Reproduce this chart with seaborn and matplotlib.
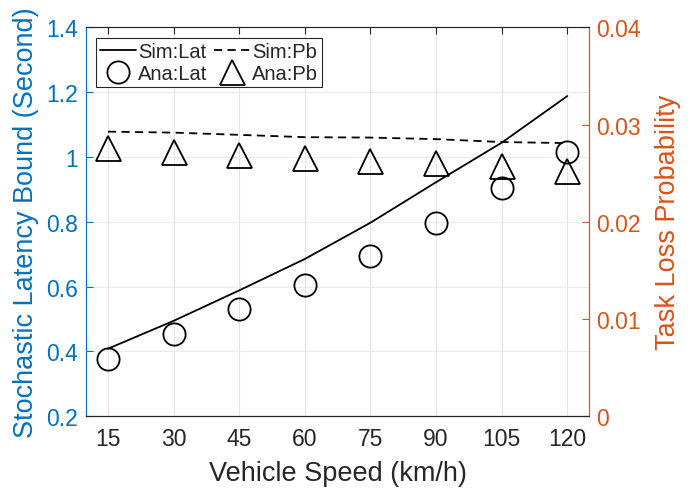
import numpy as np
import pandas as pd
import matplotlib
matplotlib.use('Agg')
import matplotlib.pyplot as plt
import seaborn as sns

# values
speeds = [15, 30, 45, 60, 75, 90, 105, 120]
sim_lat = [0.408, 0.494, 0.588, 0.685, 0.797, 0.922, 1.044, 1.188]
ana_lat = [0.375, 0.454, 0.531, 0.605, 0.694, 0.796, 0.903, 1.015]
sim_pb = [0.02927, 0.02917, 0.02894, 0.0287, 0.02866, 0.0285, 0.0282, 0.02809]
ana_pb = [0.02757, 0.02716, 0.02686, 0.0266, 0.0263, 0.0260, 0.02573, 0.02527]

blue = '#0072BD'
orange = '#D95319'
dark = '#262626'

sns.set_style('whitegrid')
plt.rcParams['font.family'] = ['Liberation Sans', 'DejaVu Sans']
plt.rcParams['xtick.direction'] = 'in'
plt.rcParams['ytick.direction'] = 'in'

df = pd.DataFrame({'speed': speeds, 'sim_lat': sim_lat, 'ana_lat': ana_lat,
                   'sim_pb': sim_pb, 'ana_pb': ana_pb})

fig = plt.figure(figsize=(6.94, 4.89), dpi=100)
ax = fig.add_axes([0.124, 0.147, 0.725, 0.795])
ax2 = ax.twinx()

sns.lineplot(data=df, x='speed', y='sim_lat', ax=ax, color='black', lw=1.3, label='Sim:Lat')
sns.lineplot(data=df, x='speed', y='ana_lat', ax=ax, color='black', linestyle='', marker='o',
             markersize=16, markerfacecolor='none', markeredgecolor='black', markeredgewidth=1.3,
             label='Ana:Lat')
sns.lineplot(data=df, x='speed', y='sim_pb', ax=ax2, color='black', lw=1.3, linestyle=(0, (4.5, 3)),
             label='Sim:Pb')
sns.lineplot(data=df, x='speed', y='ana_pb', ax=ax2, color='black', linestyle='', marker='^',
             markersize=18, markerfacecolor='none', markeredgecolor='black', markeredgewidth=1.3,
             label='Ana:Pb')

ax.set_xlim(10, 125)
ax.set_ylim(0.2, 1.4)
ax2.set_ylim(0, 0.04)
ax.set_xticks(speeds)
ax.set_yticks([0.2, 0.4, 0.6, 0.8, 1.0, 1.2, 1.4])
ax.set_yticklabels(['0.2', '0.4', '0.6', '0.8', '1', '1.2', '1.4'])
ax2.set_yticks([0, 0.01, 0.02, 0.03, 0.04])
ax2.set_yticklabels(['0', '0.01', '0.02', '0.03', '0.04'])

ax.set_xlabel('Vehicle Speed (km/h)', fontsize=19.5, color=dark, labelpad=7)
ax.set_ylabel('Stochastic Latency Bound (Second)', fontsize=19.5, color=blue, labelpad=5)
ax2.set_ylabel('Task Loss Probability', fontsize=19.5, color=orange, labelpad=10)

ax.tick_params(axis='x', labelsize=16.5, colors=dark, length=5, width=0.8, top=True, pad=8)
ax.tick_params(axis='y', labelsize=16.5, colors=blue, length=5, width=0.8, pad=6)
ax2.tick_params(axis='y', labelsize=16.5, colors=orange, length=5, width=0.8, pad=5)

# grid: gray verticals, light blue horizontals
ax.grid(True, axis='x', color='#e3e3e3', lw=0.8)
ax.grid(True, axis='y', color='#e1edf7', lw=0.8)
ax2.grid(False)
ax.set_axisbelow(True)

for a in (ax, ax2):
    a.spines['top'].set_color(dark)
    a.spines['bottom'].set_color(dark)
    a.spines['left'].set_color(blue)
    a.spines['right'].set_color(orange)
    for s in a.spines.values():
        s.set_linewidth(0.8)

# combined legend, two columns
ax.get_legend().remove()
ax2.get_legend().remove()
h1, l1 = ax.get_legend_handles_labels()
h2, l2 = ax2.get_legend_handles_labels()
handles = [h1[0], h1[1], h2[0], h2[1]]
labels = [l1[0], l1[1], l2[0], l2[1]]
leg = ax2.legend(handles, labels, ncol=2, loc='upper left', bbox_to_anchor=(0.02, 0.972),
                 fontsize=14.5, frameon=True, fancybox=False, edgecolor=dark,
                 handlelength=1.8, handletextpad=0.1, columnspacing=0.3, borderpad=0.2,
                 labelspacing=0.15, borderaxespad=0)
leg.get_frame().set_linewidth(0.8)
leg.get_frame().set_alpha(1)

plt.savefig('out.png', dpi=100)
